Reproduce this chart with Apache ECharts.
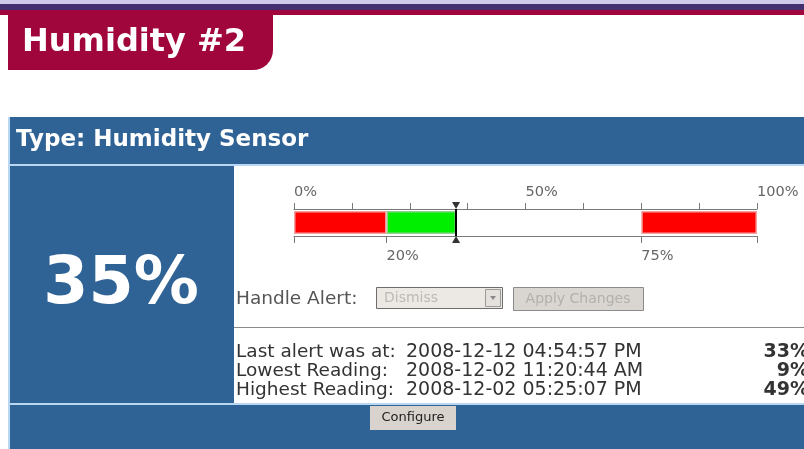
<!DOCTYPE html>
<html>
<head>
<meta charset="utf-8">
<script src="https://cdn.jsdelivr.net/npm/echarts@6/dist/echarts.min.js"></script>
<style>
html,body{margin:0;padding:0;background:#fff;}
#c{width:804px;height:449px;}
</style>
</head>
<body>
<div id="c"></div>
<script>
// ---- data ----
const sensorTitle = 'Humidity #2';
const sensorType = 'Type: Humidity Sensor';
const reading = 35;          // current reading, %
const lowAlarm = 20;         // low threshold, %
const highAlarm = 75;        // high threshold, %
const scaleMin = 0;
const scaleMax = 100;
const topTickValues = [0, 50, 100];
const topTickLabels = ['0%', '50%', '100%'];
const bottomTickValues = [0, 20, 75, 100];
const bottomLabelValues = [20, 75];
const bottomTickLabels = ['20%', '75%'];
const readingLabels = ['Last alert was at:', 'Lowest Reading:', 'Highest Reading:'];
const readingTimes = ['2008-12-12 04:54:57 PM', '2008-12-02 11:20:44 AM', '2008-12-02 05:25:07 PM'];
const readingValues = [33, 9, 49];
const category = ['Humidity'];

// ---- colours / layout ----
const CRIMSON = '#a0063c';
const BLUE = '#2f6396';
const LIGHT = '#b9d7f2';
const FONT = '"DejaVu Sans", Verdana, sans-serif';

const chart = echarts.init(document.getElementById('c'), null, {renderer: 'canvas'});

const segValues = [lowAlarm - scaleMin, reading - lowAlarm, highAlarm - reading, scaleMax - highAlarm];
const segColors = ['#ff0000', '#00ee00', 'rgba(0,0,0,0)', '#ff0000'];
const segBorders = ['#f3a0a0', '#8fcf8f', 'rgba(0,0,0,0)', '#f3a0a0'];

const series = segValues.map((v, i) => ({
  type: 'bar',
  stack: 'gauge',
  xAxisIndex: 0,
  yAxisIndex: 0,
  barWidth: 23,
  silent: true,
  data: [v],
  itemStyle: {color: segColors[i], borderColor: segBorders[i], borderWidth: 1.5},
  z: 2
}));
series[1].markLine = {
  silent: true, symbol: 'none', label: {show: false},
  lineStyle: {color: '#000', width: 2, type: 'solid'},
  data: [{xAxis: reading}]
};
series.push({
  type: 'scatter', xAxisIndex: 0, yAxisIndex: 0, silent: true,
  symbol: 'triangle', symbolSize: [8, 7], symbolRotate: 180, symbolOffset: [0, -17],
  itemStyle: {color: '#000'}, data: [[reading, category[0]]], z: 5
});
series.push({
  type: 'scatter', xAxisIndex: 0, yAxisIndex: 0, silent: true,
  symbol: 'triangle', symbolSize: [8, 7], symbolOffset: [0, 17],
  itemStyle: {color: '#000'}, data: [[reading, category[0]]], z: 5
});

const graphics = [];
// top bands
graphics.push({type: 'rect', shape: {x: 0, y: 0, width: 804, height: 4}, style: {fill: '#cfc9ea'}, z: 0});
graphics.push({type: 'rect', shape: {x: 0, y: 4, width: 804, height: 6}, style: {fill: '#43306e'}, z: 0});
graphics.push({type: 'rect', shape: {x: 0, y: 10, width: 804, height: 5}, style: {fill: CRIMSON}, z: 0});
// tab
graphics.push({type: 'rect', shape: {x: 8, y: 10, width: 265, height: 60, r: [0, 0, 20, 0]}, style: {fill: CRIMSON}, z: 0});
graphics.push({type: 'text', x: 22, y: 43, style: {text: sensorTitle, fill: '#fff', font: 'bold 32px ' + FONT, verticalAlign: 'middle'}, z: 3});
// header bar
graphics.push({type: 'rect', shape: {x: 8, y: 117, width: 796, height: 47}, style: {fill: BLUE}, z: 0});
graphics.push({type: 'text', x: 16, y: 140, style: {text: sensorType, fill: '#fff', font: 'bold 23px ' + FONT, verticalAlign: 'middle'}, z: 3});
graphics.push({type: 'rect', shape: {x: 8, y: 164, width: 796, height: 2}, style: {fill: LIGHT}, z: 1});
// left panel
graphics.push({type: 'rect', shape: {x: 8, y: 166, width: 226, height: 238}, style: {fill: BLUE}, z: 0});
graphics.push({type: 'text', x: 121, y: 286, style: {text: reading + '%', fill: '#fff', font: 'bold 65px ' + FONT, align: 'center', verticalAlign: 'middle'}, z: 3});
// left light edge
graphics.push({type: 'rect', shape: {x: 8, y: 117, width: 2, height: 332}, style: {fill: LIGHT}, z: 1});
// bottom band
graphics.push({type: 'rect', shape: {x: 8, y: 404, width: 796, height: 45}, style: {fill: BLUE}, z: 0});
graphics.push({type: 'rect', shape: {x: 8, y: 403, width: 796, height: 2}, style: {fill: LIGHT}, z: 1});
// separator
graphics.push({type: 'rect', shape: {x: 234, y: 327, width: 570, height: 1}, style: {fill: '#8a8a8a'}, z: 1});
// handle alert
graphics.push({type: 'text', x: 236, y: 299, style: {text: 'Handle Alert:', fill: '#555', font: '18.5px ' + FONT, verticalAlign: 'middle'}, z: 3});
graphics.push({type: 'rect', shape: {x: 376.5, y: 287.5, width: 126, height: 21}, style: {fill: '#ece9e4', stroke: '#6d6d6d', lineWidth: 1}, z: 2});
graphics.push({type: 'text', x: 384, y: 298, style: {text: 'Dismiss', fill: '#bdbab5', font: '14px ' + FONT, verticalAlign: 'middle'}, z: 3});
graphics.push({type: 'rect', shape: {x: 485.5, y: 289.5, width: 15, height: 17}, style: {fill: '#e4e1dc', stroke: '#9a9a9a', lineWidth: 1}, z: 3});
graphics.push({type: 'polygon', shape: {points: [[490, 296], [496, 296], [493, 300]]}, style: {fill: '#8a8a8a'}, z: 4});
graphics.push({type: 'rect', shape: {x: 513.5, y: 287.5, width: 130, height: 23}, style: {fill: '#d9d6d1', stroke: '#8b8b8b', lineWidth: 1}, z: 2});
graphics.push({type: 'text', x: 578, y: 299, style: {text: 'Apply Changes', fill: '#b3b0ab', font: '14px ' + FONT, align: 'center', verticalAlign: 'middle'}, z: 3});
// readings
const rowY = [352, 371, 390];
readingLabels.forEach((t, i) => {
  graphics.push({type: 'text', x: 236, y: rowY[i], style: {text: t, fill: '#333', font: '18.5px ' + FONT, verticalAlign: 'middle'}, z: 3});
  graphics.push({type: 'text', x: 406, y: rowY[i], style: {text: readingTimes[i], fill: '#333', font: '19px ' + FONT, verticalAlign: 'middle'}, z: 3});
  graphics.push({type: 'text', x: 809, y: rowY[i], style: {text: readingValues[i] + '%', fill: '#333', font: 'bold 19px ' + FONT, align: 'right', verticalAlign: 'middle'}, z: 3});
});
// configure button
graphics.push({type: 'rect', shape: {x: 370, y: 406, width: 86, height: 24}, style: {fill: '#d8d3cc'}, z: 2});
graphics.push({type: 'text', x: 413, y: 418, style: {text: 'Configure', fill: '#222', font: '13px ' + FONT, align: 'center', verticalAlign: 'middle'}, z: 3});

const option = {
  animation: false,
  backgroundColor: '#ffffff',
  grid: {left: 294, top: 209, width: 463, height: 27, containLabel: false},
  xAxis: [
    {
      type: 'value', position: 'top', min: scaleMin, max: scaleMax, interval: 12.5,
      splitLine: {show: false},
      axisLine: {show: true, lineStyle: {color: '#7a7a7a', width: 1}},
      axisTick: {show: true, length: 6, lineStyle: {color: '#7a7a7a'}},
      axisLabel: {
        customValues: topTickValues,
        formatter: v => topTickLabels[topTickValues.indexOf(v)],
        align: 'left', margin: 9, color: '#666', fontSize: 14.5, fontFamily: FONT,
        showMinLabel: true, showMaxLabel: true
      }
    },
    {
      type: 'value', position: 'bottom', min: scaleMin, max: scaleMax,
      splitLine: {show: false},
      axisLine: {show: true, lineStyle: {color: '#7a7a7a', width: 1}},
      axisTick: {show: true, length: 7, customValues: bottomTickValues, lineStyle: {color: '#7a7a7a'}},
      axisLabel: {
        customValues: bottomLabelValues,
        formatter: v => bottomTickLabels[bottomLabelValues.indexOf(v)],
        align: 'left', margin: 13, color: '#666', fontSize: 14.5, fontFamily: FONT
      }
    }
  ],
  yAxis: [{type: 'category', data: category, show: false}],
  graphic: graphics,
  series: series
};
chart.setOption(option);
</script>
</body>
</html>
